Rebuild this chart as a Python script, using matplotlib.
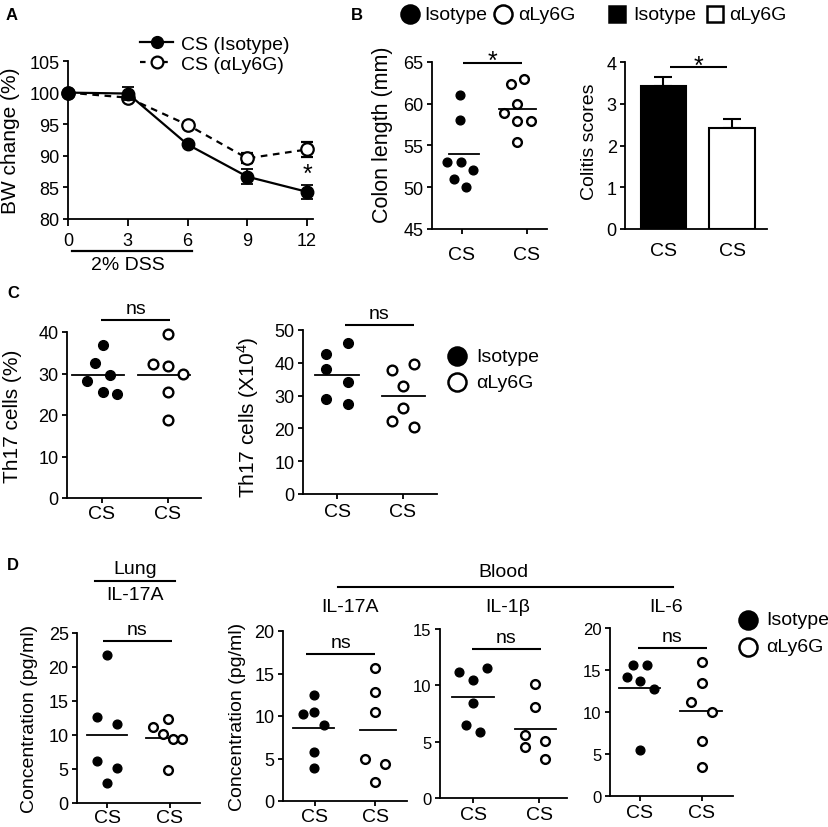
import matplotlib
matplotlib.use("Agg")
import matplotlib.pyplot as plt
import numpy as np
from matplotlib.lines import Line2D

plt.rcParams['font.family'] = ['Liberation Sans', 'DejaVu Sans']
plt.rcParams['mathtext.default'] = 'regular'

W, H = 829, 828

# ---------------- data ----------------
days = [0, 3, 6, 9, 12]
bw_iso = [100, 99.85, 91.8, 86.7, 84.3]
bw_iso_err = [0, 1.0, 0.3, 1.2, 1.1]
bw_aly = [100, 99.2, 94.9, 89.6, 91.0]
bw_aly_err = [0, 0.4, 0.3, 0.8, 1.2]

colon_iso = [61, 58, 53, 53, 52, 51, 50]
colon_aly = [62.3, 62.9, 59.9, 58.9, 57.9, 57.9, 55.4]
colitis_mean = [3.43, 2.42]
colitis_err = [0.22, 0.22]

th17_pct_iso = [36.8, 32.6, 29.7, 28.1, 25.5, 25.0]
th17_pct_aly = [39.4, 32.4, 31.7, 30.0, 25.5, 18.7]
th17_num_iso = [45.9, 42.6, 38.2, 34.0, 29.1, 27.4]
th17_num_aly = [39.5, 37.7, 32.8, 26.1, 22.3, 20.3]

lung_il17_iso = [21.7, 12.6, 11.6, 6.2, 5.2, 2.9]
lung_il17_aly = [12.3, 11.2, 10.2, 9.4, 9.4, 4.9]
blood_il17_iso = [12.5, 10.2, 10.5, 8.9, 5.8, 3.9]
blood_il17_aly = [15.6, 12.8, 10.5, 5.0, 4.3, 2.2]
blood_il1b_iso = [11.2, 10.5, 11.5, 8.4, 6.5, 5.85]
blood_il1b_aly = [10.1, 8.1, 5.55, 5.1, 4.5, 3.5]
blood_il6_iso = [15.6, 15.6, 14.2, 13.65, 12.75, 5.5]
blood_il6_aly = [16.0, 13.4, 11.2, 10.0, 6.5, 3.45]

groups = ['CS', 'CS']

# horizontal spread of the dots inside each column (layout only)
colon_iso_dx = [-0.03, -0.03, -0.23, -0.02, 0.17, -0.12, 0.07]
colon_aly_dx = [-0.25, -0.05, -0.15, -0.35, -0.15, 0.06, -0.15]
th17_pct_iso_dx = [0.02, -0.11, 0.12, -0.22, 0.01, 0.22]
th17_pct_aly_dx = [0, -0.22, 0, 0.22, 0, 0]
th17_num_iso_dx = [0.17, -0.17, -0.17, 0.17, -0.17, 0.17]
th17_num_aly_dx = [0.17, -0.17, 0, 0, -0.17, 0.17]
lung_iso_dx = [0, -0.16, 0.16, -0.16, 0.16, 0]
lung_aly_dx = [-0.03, -0.27, -0.11, 0.05, 0.2, -0.03]
il17_iso_dx = [-0.02, -0.19, -0.02, 0.15, -0.02, -0.02]
il17_aly_dx = [0, 0, 0, -0.17, 0.17, 0]
il1b_iso_dx = [-0.21, 0, 0.21, 0, -0.1, 0.11]
il1b_aly_dx = [-0.06, -0.06, -0.21, 0.09, -0.21, 0.09]
il6_iso_dx = [-0.11, 0.11, -0.21, 0, 0.23, 0]
il6_aly_dx = [0, 0, -0.17, 0.17, 0, 0]


fig = plt.figure(figsize=(W / 100, H / 100), dpi=100)


def px_box(l, t, r, b):
    return [l / W, 1 - b / H, (r - l) / W, (b - t) / H]


def fx(x):
    return x / W


def fy(y):
    return 1 - y / H


def style(ax, fs=13, pad=2.5):
    for s in ['top', 'right']:
        ax.spines[s].set_visible(False)
    for s in ['left', 'bottom']:
        ax.spines[s].set_linewidth(1.3)
    ax.tick_params(direction='out', length=3.5, width=1.3, labelsize=fs, pad=pad)
    ax.tick_params(axis='x', labelsize=14)


def set_ylabel(ax, text, right_px, box, fs=14, yc=None):
    ax.set_ylabel(text, fontsize=fs)
    yfrac = 0.5 if yc is None else (box[3] - yc) / (box[3] - box[1])
    ax.yaxis.set_label_coords((right_px - box[0]) / (box[2] - box[0]), yfrac)


def sig_bar(ax, x0, x1, y, txt):
    ax.plot([x0, x1], [y, y], color='black', lw=1.5, clip_on=False, solid_capstyle='butt')
    if txt == '*':
        ax.annotate('*', xy=((x0 + x1) / 2, y), xytext=(0, -4), textcoords='offset points',
                    ha='center', va='baseline', fontsize=18, annotation_clip=False)
    else:
        ax.annotate(txt, xy=((x0 + x1) / 2, y), xytext=(0, 5), textcoords='offset points',
                    ha='center', va='baseline', fontsize=14, annotation_clip=False)


def dot_panel(box, iso, aly, iso_dx, aly_dx, ylim, yticks, xlim, spans, sig,
              ylabel=None, lab_px=None, lab_fs=14, lab_yc=None, fs=13, ms=6.5, xpad=3):
    ax = fig.add_axes(px_box(*box))
    ax.plot(np.array(iso_dx), iso, 'o', color='black', ms=ms, clip_on=False, zorder=3)
    ax.plot(1 + np.array(aly_dx), aly, 'o', mfc='white', mec='black', mew=1.7,
            ms=ms, clip_on=False, zorder=3)
    for vals, (lo, hi) in zip([iso, aly], spans):
        m = np.mean(vals)
        ax.plot([lo, hi], [m, m], color='black', lw=1.3, zorder=2)
    sig_bar(ax, *sig)
    ax.set_xlim(*xlim)
    ax.set_ylim(*ylim)
    ax.set_yticks(yticks)
    ax.set_xticks([0, 1])
    ax.set_xticklabels(groups)
    style(ax, fs)
    ax.tick_params(axis='x', pad=xpad)
    if ylabel:
        set_ylabel(ax, ylabel, lab_px, box, fs=lab_fs, yc=lab_yc)
    return ax


def legend_item(x, y, marker, filled, text, ms=13, fs=14, tx=None):
    fig.add_artist(Line2D([fx(x)], [fy(y)], marker=marker, ms=ms, mew=1.8,
                          mfc='black' if filled else 'white', mec='black',
                          transform=fig.transFigure))
    fig.text(fx(tx if tx else x + 14), fy(y), text, fontsize=fs, va='center', ha='left')


# ---------------- panel labels ----------------
for lab, x, y in [('A', 6, 15), ('B', 351, 15), ('C', 7, 293), ('D', 7, 565)]:
    fig.text(fx(x), fy(y), lab, fontsize=12, fontweight='bold', va='center', ha='left')

# ---------------- A: body weight ----------------
boxA = (68, 62, 313, 220)
axA = fig.add_axes(px_box(*boxA))
axA.errorbar(days, bw_aly, yerr=bw_aly_err, color='black', ls=(0, (3, 2.5)), lw=1.6,
             marker='o', ms=9, mfc='white', mec='black', mew=1.6, capsize=4,
             elinewidth=1.3, capthick=1.3, clip_on=False, zorder=3)
axA.errorbar(days, bw_iso, yerr=bw_iso_err, color='black', lw=1.6,
             marker='o', ms=9, mfc='black', mec='black', capsize=4,
             elinewidth=1.3, capthick=1.3, clip_on=False, zorder=4)
axA.set_xlim(0, 12.3)
axA.set_ylim(80, 105)
axA.set_xticks(days)
axA.set_yticks([80, 85, 90, 95, 100, 105])
style(axA, 13)
axA.tick_params(axis='x', length=5, pad=4, labelsize=13)
set_ylabel(axA, 'BW change (%)', 20, boxA, fs=15)
axA.text(12, 87.2, '*', fontsize=18, ha='center', va='center')
xa = axA.get_xaxis_transform()
axA.plot([0.2, 6.25], [-0.2, -0.2], color='black', lw=1.6, transform=xa, clip_on=False)
axA.text(3.0, -0.29, '2% DSS', transform=xa, ha='center', va='center', fontsize=14)
leg_handles = [
    Line2D([], [], color='black', lw=1.6, marker='o', ms=8.5, mfc='black', mec='black'),
    Line2D([], [], color='black', lw=1.6, ls=(0, (2.5, 2.5)), marker='o', ms=8.5,
           mfc='white', mec='black', mew=1.6),
]
axA.legend(leg_handles, ['CS (Isotype)', 'CS (\u03b1Ly6G)'], loc='center left',
           frameon=False, fontsize=14,
           bbox_to_anchor=(fx(140), fy(55)), bbox_transform=fig.transFigure,
           handlelength=1.7, handletextpad=0.4, labelspacing=0.1, borderaxespad=0,
           borderpad=0)

# ---------------- B: colon length and colitis scores ----------------
legend_item(410, 15, 'o', True, 'Isotype', tx=424)
legend_item(503, 15, 'o', False, '\u03b1Ly6G', tx=518)
legend_item(617, 15, 's', True, 'Isotype', ms=11, tx=633)
legend_item(715, 15, 's', False, '\u03b1Ly6G', ms=11, tx=729)

dot_panel((432, 62.7, 547, 230), colon_iso, colon_aly, colon_iso_dx, colon_aly_dx,
          (45, 65), [45, 50, 55, 60, 65], (-0.46, 1.31),
          [(-0.2, 0.27), (0.57, 1.14)], (0.02, 0.92, 64.9, '*'),
          ylabel='Colon length (mm)', lab_px=393, lab_fs=15.5, lab_yc=135, ms=6.3, xpad=9)

boxB2 = (625, 63, 767, 230)
axB2 = fig.add_axes(px_box(*boxB2))
axB2.bar([0, 1], colitis_mean, width=0.66, color=['black', 'white'],
         edgecolor='black', linewidth=1.5, zorder=2)
axB2.errorbar([0, 1], colitis_mean, yerr=[[0, 0], colitis_err], fmt='none',
              ecolor='black', elinewidth=1.5, capsize=6.5, capthick=1.5, zorder=1)
axB2.set_xlim(-0.56, 1.51)
axB2.set_ylim(0, 4)
axB2.set_yticks([0, 1, 2, 3, 4])
axB2.set_xticks([0, 1])
axB2.set_xticklabels(groups)
style(axB2, 13)
axB2.tick_params(axis='x', length=0, pad=9)
set_ylabel(axB2, 'Colitis scores', 598, boxB2, fs=14, yc=142)
sig_bar(axB2, 0.09, 0.93, 3.87, '*')

# ---------------- C: Th17 cells ----------------
dot_panel((67, 333, 201, 499), th17_pct_iso, th17_pct_aly, th17_pct_iso_dx, th17_pct_aly_dx,
          (0, 40), [0, 10, 20, 30, 40], (-0.53, 1.5),
          [(-0.46, 0.33), (0.55, 1.33)], (-0.01, 1.03, 42.8, 'ns'),
          ylabel='Th17 cells (%)', lab_px=22, lab_fs=15, ms=7, xpad=1.5)

dot_panel((303, 331, 437, 495), th17_num_iso, th17_num_aly, th17_num_iso_dx, th17_num_aly_dx,
          (0, 50), [0, 10, 20, 30, 40, 50], (-0.52, 1.52),
          [(-0.33, 0.33), (0.68, 1.33)], (0.12, 1.17, 51.4, 'ns'),
          ylabel='Th17 cells (X10$^{4}$)', lab_px=261, lab_fs=15, lab_yc=417, ms=7, xpad=3)

legend_item(457, 357, 'o', True, 'Isotype', tx=476)
legend_item(457, 383, 'o', False, '\u03b1Ly6G', tx=476)

# ---------------- D: cytokines ----------------
dot_panel((77, 634, 200, 804), lung_il17_iso, lung_il17_aly, lung_iso_dx, lung_aly_dx,
          (0, 25), [0, 5, 10, 15, 20, 25], (-0.48, 1.48),
          [(-0.32, 0.31), (0.62, 1.1)], (-0.07, 1.03, 23.8, 'ns'),
          ylabel='Concentration (pg/ml)', lab_px=38, lab_fs=14, ms=6.3, xpad=1)

dot_panel((283, 632, 407, 802), blood_il17_iso, blood_il17_aly, il17_iso_dx, il17_aly_dx,
          (0, 20), [0, 5, 10, 15, 20], (-0.53, 1.53),
          [(-0.36, 0.32), (0.75, 1.35)], (-0.14, 1.0, 17.25, 'ns'),
          ylabel='Concentration (pg/ml)', lab_px=246, lab_fs=14, ms=6.3, xpad=1.5)

dot_panel((440, 630, 567, 799), blood_il1b_iso, blood_il1b_aly, il1b_iso_dx, il1b_aly_dx,
          (0, 15), [0, 5, 10, 15], (-0.5, 1.42),
          [(-0.32, 0.32), (0.64, 1.26)], (-0.02, 1.02, 13.2, 'ns'),
          fs=12, ms=6.3, xpad=2)

dot_panel((610, 629, 733, 797), blood_il6_iso, blood_il6_aly, il6_iso_dx, il6_aly_dx,
          (0, 20), [0, 5, 10, 15, 20], (-0.48, 1.5),
          [(-0.33, 0.32), (0.65, 1.33)], (-0.03, 1.08, 17.6, 'ns'),
          fs=12, ms=6.3, xpad=2)

# tissue / cytokine headers
fig.text(fx(135), fy(569), 'Lung', fontsize=14, ha='center', va='center')
fig.add_artist(Line2D([fx(95), fx(175)], [fy(582), fy(582)], color='black', lw=1.5,
                      transform=fig.transFigure))
fig.text(fx(503), fy(573), 'Blood', fontsize=14, ha='center', va='center')
fig.add_artist(Line2D([fx(338), fx(673)], [fy(588), fy(588)], color='black', lw=1.5,
                      transform=fig.transFigure))
for txt, x in [('IL-17A', 135), ('IL-17A', 350), ('IL-1\u03b2', 508), ('IL-6', 666)]:
    fig.text(fx(x), fy(596 if x == 135 else 607), txt, fontsize=14, ha='center', va='center')

legend_item(748, 621, 'o', True, 'Isotype', tx=766)
legend_item(748, 648, 'o', False, '\u03b1Ly6G', tx=766)

fig.savefig('out.png', dpi=100)
